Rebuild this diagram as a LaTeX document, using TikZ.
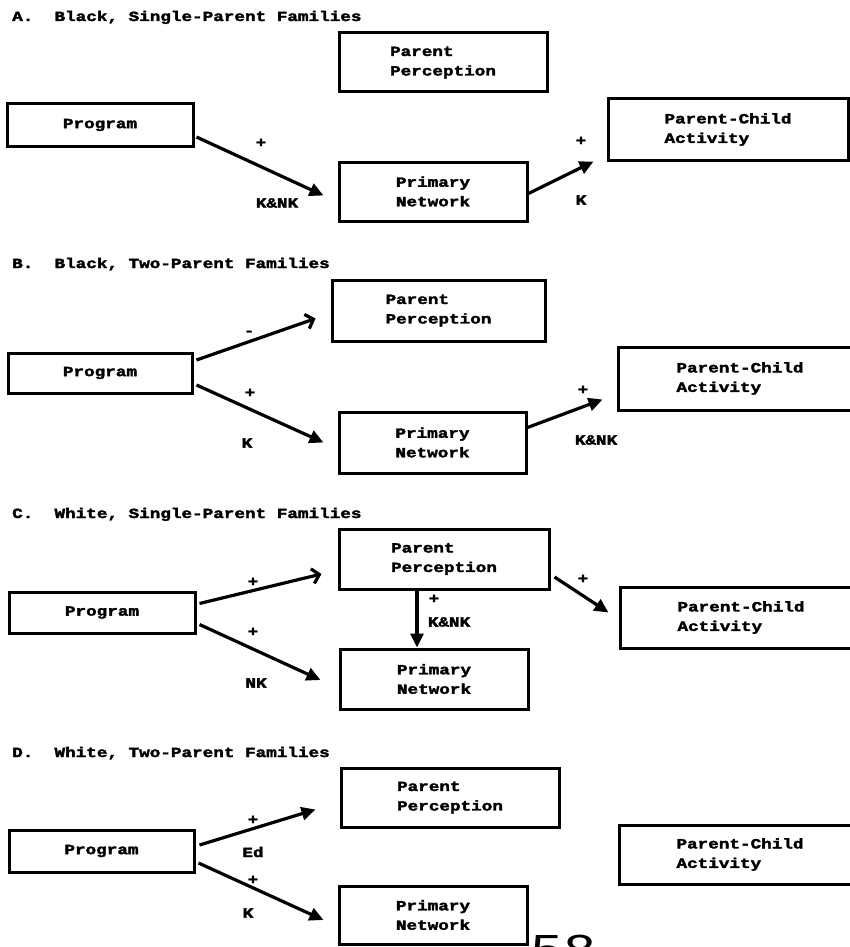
\documentclass[tikz,border=0pt]{standalone}
\usepackage{fontspec}
\newfontfamily\dm{Liberation Mono}[FakeStretch=1.26, BoldFeatures={FakeBold=2.5}]
\usetikzlibrary{arrows.meta,calc}
\begin{document}
\begin{tikzpicture}[x=1pt,y=-1pt,
 txt/.style={font=\dm\bfseries\fontsize{14}{19.5}\selectfont, inner sep=0pt},
 box/.style={txt, draw, line width=3pt, align=left},
 ttl/.style={txt, anchor=base west},
 lab/.style={txt},
 conn/.style={line width=3.2pt, -{Triangle[length=14pt,width=13pt]}},
 connopen/.style={line width=3.2pt, -{Straight Barb[length=7pt,width=15pt,line width=3.2pt]}}]
\fill[white] (0,0) rectangle (850,947);
\useasboundingbox (0,0) rectangle (850,947);

% ---------- A ----------
\node[ttl] (tA) at (12,21) {A.\ \ Black, Single-Parent Families};
\node[box, minimum width=208pt, minimum height=59pt] (ppA) at (443,62.5) {Parent\\Perception};
\node[box, minimum width=186pt, minimum height=42pt] (progA) at (100,125) {Program};
\node[box, minimum width=240pt, minimum height=61pt] (pcA) at (728,129.5) {Parent-Child\\Activity};
\node[box, minimum width=188pt, minimum height=59pt] (pnA) at (433,191.5) {Primary\\Network};
\draw[conn] ($(progA.east)+(2,12)$) -- ($(pnA.west)+(-14,4)$);
\draw[conn] ($(pnA.east)+(0,2)$) -- ($(pcA.west)+(-13,32)$);
\node[lab] (a1p) at (261,143) {+};
\node[lab] (a1k) at (277,203) {K\&NK};
\node[lab] (a2p) at (581,141) {+};
\node[lab] (a2k) at (581,200) {K};

% ---------- B ----------
\node[ttl] (tB) at (12,268) {B.\ \ Black, Two-Parent Families};
\node[box, minimum width=213pt, minimum height=61pt] (ppB) at (438.5,310.5) {Parent\\Perception};
\node[box, minimum width=184pt, minimum height=40pt] (progB) at (100,373) {Program};
\node[box, minimum width=244pt, minimum height=63pt] (pcB) at (740,378.5) {Parent-Child\\Activity};
\node[box, minimum width=187pt, minimum height=61pt] (pnB) at (432.5,442.5) {Primary\\Network};
\draw[connopen] ($(progB.east)+(3,-13)$) -- ($(ppB.west)+(-15,8)$);
\draw[conn] ($(progB.east)+(3,12)$) -- ($(pnB.west)+(-14,0)$);
\draw[conn] ($(pnB.east)+(0,-15)$) -- ($(pcB.west)+(-14,21)$);
\node[lab] (b1m) at (249,333) {-};
\node[lab] (b2p) at (250,393) {+};
\node[lab] (b2k) at (247,443) {K};
\node[lab] (b3p) at (583,390) {+};
\node[lab] (b3k) at (596,440) {K\&NK};

% ---------- C ----------
\node[ttl] (tC) at (12,518) {C.\ \ White, Single-Parent Families};
\node[box, minimum width=210pt, minimum height=60pt] (ppC) at (444,559) {Parent\\Perception};
\node[box, minimum width=186pt, minimum height=41pt] (progC) at (102,612.5) {Program};
\node[box, minimum width=242pt, minimum height=61pt] (pcC) at (741,617.5) {Parent-Child\\Activity};
\node[box, minimum width=188pt, minimum height=60pt] (pnC) at (434,679) {Primary\\Network};
\draw[connopen] ($(progC.east)+(3,-9)$) -- ($(ppC.west)+(-16,15)$);
\draw[conn] ($(progC.east)+(3,12)$) -- ($(pnC.west)+(-18,1)$);
\draw[conn] ($(ppC.south)+(-27,0)$) -- ($(pnC.north)+(-17,0)$);
\draw[conn] ($(ppC.east)+(4,18)$) -- ($(pcC.west)+(-10,-5)$);
\node[lab] (c1p) at (253,582) {+};
\node[lab] (c2p) at (253,632) {+};
\node[lab] (c2k) at (256,683) {NK};
\node[lab] (c3p) at (434,599) {+};
\node[lab] (c3k) at (449,622) {K\&NK};
\node[lab] (c4p) at (583,579) {+};

% ---------- D ----------
\node[ttl] (tD) at (12,757) {D.\ \ White, Two-Parent Families};
\node[box, minimum width=218pt, minimum height=59pt] (ppD) at (450,797.5) {Parent\\Perception};
\node[box, minimum width=185pt, minimum height=42pt] (progD) at (101.5,851) {Program};
\node[box, minimum width=242pt, minimum height=59pt] (pcD) at (740,854.5) {Parent-Child\\Activity};
\node[box, minimum width=188pt, minimum height=58pt] (pnD) at (433,915) {Primary\\Network};
\draw[conn] ($(progD.east)+(4,-6)$) -- ($(ppD.west)+(-24,12)$);
\draw[conn] ($(progD.east)+(3,12)$) -- ($(pnD.west)+(-14,5)$);
\node[lab] (d1p) at (253,820) {+};
\node[lab] (d1e) at (253,852) {Ed};
\node[lab] (d2p) at (253,880) {+};
\node[lab] (d2k) at (248,913) {K};

% page number (cut off at the bottom, as in the scan)
\node[anchor=base west, inner sep=0pt, font=\dm\fontsize{44}{44}\selectfont] (pg) at (530,964) {58};
\end{tikzpicture}
\end{document}
